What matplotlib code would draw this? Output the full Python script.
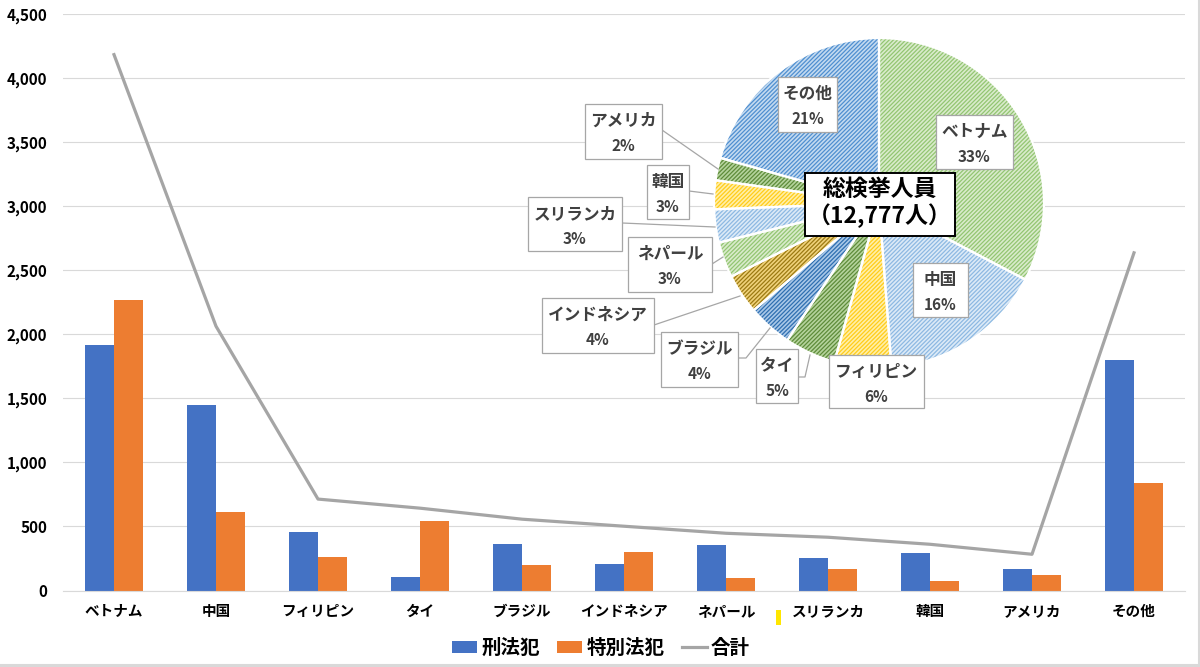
import matplotlib
matplotlib.use('Agg')
import matplotlib.pyplot as plt
from matplotlib.patches import Rectangle, Patch
from matplotlib.lines import Line2D
import numpy as np

plt.rcParams['font.family'] = ['Noto Sans CJK JP', 'DejaVu Sans']
plt.rcParams['hatch.linewidth'] = 0.9

# ---------------- data ----------------
categories = ['ベトナム', '中国', 'フィリピン', 'タイ', 'ブラジル', 'インドネシア',
              'ネパール', 'スリランカ', '韓国', 'アメリカ', 'その他']
penal = [1920, 1452, 455, 102, 361, 204, 353, 251, 290, 165, 1797]      # 刑法犯
special = [2265, 612, 259, 541, 196, 298, 94, 165, 71, 118, 840]        # 特別法犯
total = [p + s for p, s in zip(penal, special)]                         # 合計
y_ticks = [0, 500, 1000, 1500, 2000, 2500, 3000, 3500, 4000, 4500]
series_names = ['刑法犯', '特別法犯', '合計']
center_title = '総検挙人員'
center_total = '（12,777人）'

# ---------------- style ----------------
W, H = 1200, 667
BLUE, ORANGE, GRAY = '#4472C4', '#ED7D31', '#A5A5A5'
pie_colors = [  # (base, stripe)
    ('#D9EBCB', '#93C572'),   # ベトナム
    ('#DCEAF7', '#8DB9E2'),   # 中国
    ('#FFEFA8', '#FFCC1A'),   # フィリピン
    ('#B5D39C', '#5E8C3A'),   # タイ
    ('#A9C8E8', '#2F6FB0'),   # ブラジル
    ('#F0D27A', '#9C7A12'),   # インドネシア
    ('#D9EBCB', '#93C572'),   # ネパール
    ('#DCEAF7', '#8DB9E2'),   # スリランカ
    ('#FFEFA8', '#FFCC1A'),   # 韓国
    ('#B5D39C', '#5E8C3A'),   # アメリカ
    ('#C3DAF0', '#4F8FD0'),   # その他
]
# label boxes in figure pixels (x0, y0, x1, y1)
label_boxes = [
    (936, 115, 1013, 169),
    (913, 263, 968, 317),
    (829, 355, 924, 408),
    (756, 349, 798, 403),
    (661, 332, 738, 387),
    (542, 298, 654, 353),
    (628, 237, 712, 292),
    (528, 197, 622, 251),
    (647, 165, 689, 219),
    (585, 104, 662, 159),
    (778, 77, 837, 132),
]
leaders = [
    None, None, None,
    [(798, 377), (805, 377), (810, 355)],
    [(738, 358), (746, 358), (770, 328)],
    [(654, 325), (740, 296)],
    [(712, 264), (723, 257)],
    [(622, 223), (715, 227)],
    [(689, 191), (713, 194)],
    [(662, 130), (718, 169)],
    None,
]

fig = plt.figure(figsize=(W / 100, H / 100), dpi=100)

# ---------------- bar + line chart ----------------
ax = fig.add_axes([63 / W, 1 - 590.5 / H, 1122 / W, 576.2 / H])
x = np.arange(len(categories))
bw = 0.2857
ax.bar(x - bw / 2, penal, bw, color=BLUE, zorder=2)
ax.bar(x + bw / 2, special, bw, color=ORANGE, zorder=2)
ax.plot(x, total, color=GRAY, lw=2.3, zorder=3)
ax.set_xlim(-0.5, len(categories) - 0.5)
ax.set_ylim(0, 4500)
ax.set_yticks(y_ticks)
ax.set_yticklabels([f'{v:,}' for v in y_ticks], fontsize=11, fontweight='bold')
ax.set_xticks(x)
ax.set_xticklabels(categories, fontsize=10.5, fontweight='bold')
ax.yaxis.grid(True, color='#D9D9D9', lw=0.8)
ax.set_axisbelow(True)
for s in ['top', 'right', 'left']:
    ax.spines[s].set_visible(False)
ax.spines['bottom'].set_color('#D9D9D9')
ax.tick_params(length=0)
ax.tick_params(axis='y', pad=11.5)
ax.tick_params(axis='x', pad=9)
ax.patch.set_alpha(0)

handles = [Patch(facecolor=BLUE), Patch(facecolor=ORANGE), Line2D([], [], color=GRAY, lw=2.3)]
fig.legend(handles, series_names, loc='center', bbox_to_anchor=(601 / W, 1 - 648 / H),
           ncol=3, frameon=False, handlelength=1.3, handleheight=0.6,
           columnspacing=0.9, handletextpad=0.2,
           prop={'size': 14, 'weight': 'bold'})

# ---------------- pie chart ----------------
cx, cy, r = 879, 203, 165
pax = fig.add_axes([(cx - r) / W, 1 - (cy + r) / H, 2 * r / W, 2 * r / H])
wedges, _ = pax.pie(total, startangle=90, counterclock=False, radius=1)
for wdg, (fc, hc) in zip(wedges, pie_colors):
    wdg.set_facecolor(fc)
    wdg.set_edgecolor(hc)
    wdg.set_linewidth(0)
    wdg.set_hatch('////////')
    wdg.set_clip_on(False)
edges, _ = pax.pie(total, startangle=90, counterclock=False, radius=1,
                   wedgeprops=dict(fill=False, edgecolor='white', linewidth=1.6))
for e in edges:
    e.set_clip_on(False)
pax.set_xlim(-1, 1)
pax.set_ylim(-1, 1)
pax.axis('off')

# ---------------- overlay: labels ----------------
ov = fig.add_axes([0, 0, 1, 1])
ov.set_xlim(0, W)
ov.set_ylim(H, 0)
ov.axis('off')
ov.patch.set_alpha(0)

grand = sum(total)
for name, val, box, ld in zip(categories, total, label_boxes, leaders):
    x0, y0, x1, y1 = box
    if ld is not None:
        xs, ys = zip(*ld)
        ov.plot(xs, ys, color='#A6A6A6', lw=0.9, zorder=1)
    ov.add_patch(Rectangle((x0, y0), x1 - x0, y1 - y0, facecolor='white',
                           edgecolor='#A6A6A6', lw=0.9, zorder=2))
    xc = (x0 + x1) / 2
    ov.text(xc, y0 + 17, name, ha='center', va='center', fontsize=12,
            fontweight='bold', color='#404040', zorder=3)
    ov.text(xc, y0 + 42, f'{val / grand * 100:.0f}%', ha='center', va='center',
            fontsize=11, fontweight='bold', color='#404040', zorder=3)

ov.add_patch(Rectangle((805, 173), 150, 63, facecolor='white', edgecolor='black',
                       lw=1.4, zorder=4))
ov.text(880, 189, center_title, ha='center', va='center', fontsize=16.5,
        fontweight='bold', color='black', zorder=5)
ov.text(880, 216, center_total, ha='center', va='center', fontsize=16.5,
        fontweight='bold', color='black', zorder=5)

# small yellow mark near the axis labels
ov.add_patch(Rectangle((776, 610), 5, 15, facecolor='#FFE600', edgecolor='none'))

# outer frame (right and bottom)
ov.plot([0, 1198.5], [664.5, 664.5], color='#D9D9D9', lw=2.2)
ov.plot([1198.5, 1198.5], [0, 664.5], color='#D9D9D9', lw=2.2)

fig.savefig('out.png', dpi=100)
